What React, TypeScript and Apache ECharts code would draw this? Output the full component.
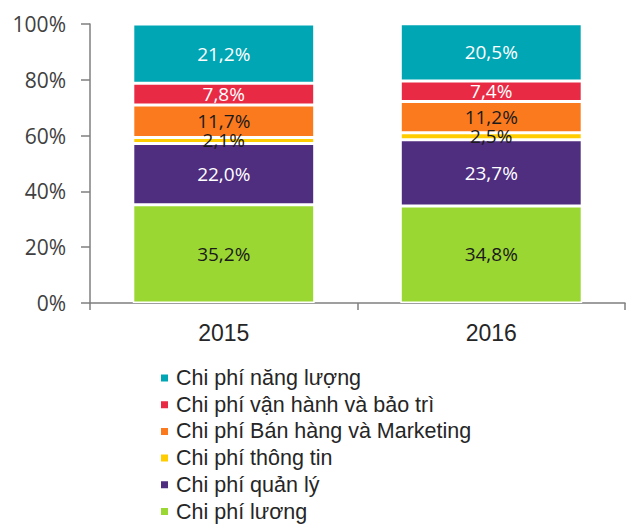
import React, { useEffect, useRef } from "react";
import * as echarts from "echarts";

const categories = ["2015", "2016"];
const seriesNames = [
  "Chi phí lương",
  "Chi phí quản lý",
  "Chi phí thông tin",
  "Chi phí Bán hàng và Marketing",
  "Chi phí vận hành và bảo trì",
  "Chi phí năng lượng",
];
const luong = [35.2, 34.8];
const quanLy = [22.0, 23.7];
const thongTin = [2.1, 2.5];
const banHang = [11.7, 11.2];
const vanHanh = [7.8, 7.4];
const nangLuong = [21.2, 20.5];
const seriesValues = [luong, quanLy, thongTin, banHang, vanHanh, nangLuong];
const colors = ["#9BD733", "#4F2D7F", "#FFCC00", "#FC7A1E", "#E92A44", "#00A6B4"];
const labelColors = ["#1a1a1a", "#ffffff", "#1a1a1a", "#1a1a1a", "#ffffff", "#ffffff"];
const yTicks = [0, 20, 40, 60, 80, 100];

export default function App() {
  const ref = useRef<HTMLDivElement>(null);
  useEffect(() => {
    if (!ref.current) return;
    const chart = echarts.init(ref.current, undefined, { renderer: "svg" });
    const legendOrder = [...seriesNames].reverse();
    chart.setOption({
      animation: false,
      grid: { left: 90, right: 1, top: 24, bottom: 222, containLabel: false },
      xAxis: {
        type: "category",
        data: categories,
        axisLine: { lineStyle: { color: "#7f7f7f", width: 1.5 } },
        axisTick: { show: true, length: 7, lineStyle: { color: "#7f7f7f", width: 1.5 } },
        axisLabel: {
          color: "#262626",
          fontSize: 23,
          fontFamily: "Liberation Sans, Arial, sans-serif",
          margin: 18,
        },
      },
      yAxis: {
        type: "value",
        min: 0,
        max: 100,
        interval: 20,
        axisLine: { show: true, lineStyle: { color: "#7f7f7f", width: 1.5 } },
        axisTick: { show: true, length: 9, lineStyle: { color: "#7f7f7f", width: 1.5 } },
        splitLine: { show: false },
        axisLabel: {
          color: "#404040",
          fontSize: 21,
          fontFamily: "Open Sans, sans-serif",
          margin: 24,
          formatter: (v: number) => (yTicks.includes(v) ? v + "%" : ""),
        },
      },
      legend: legendOrder.map((name, k) => ({
        orient: "vertical",
        left: 159,
        top: 367 + k * 26.7,
        padding: 0,
        itemWidth: 9,
        itemHeight: 9,
        icon: "rect",
        data: [name],
        textStyle: {
          color: "#262626",
          fontSize: 21.5,
          fontFamily: "Liberation Sans, Arial, sans-serif",
          padding: [0, 0, 0, 2],
        },
      })),
      series: seriesNames.map((name, i) => ({
        name,
        type: "bar",
        stack: "total",
        barWidth: "68%",
        data: seriesValues[i],
        itemStyle: { color: colors[i], borderColor: "#ffffff", borderWidth: 1.5 },
        label: {
          show: true,
          position: "inside",
          color: labelColors[i],
          fontSize: 19,
          fontFamily: "Open Sans, sans-serif",
          formatter: (p: any) => p.value.toFixed(1).replace(".", ",") + "%",
        },
      })),
    });
    return () => chart.dispose();
  }, []);
  return <div ref={ref} style={{ width: 626, height: 525, position: "absolute", left: 0, top: 0, background: "#fff" }} />;
}
